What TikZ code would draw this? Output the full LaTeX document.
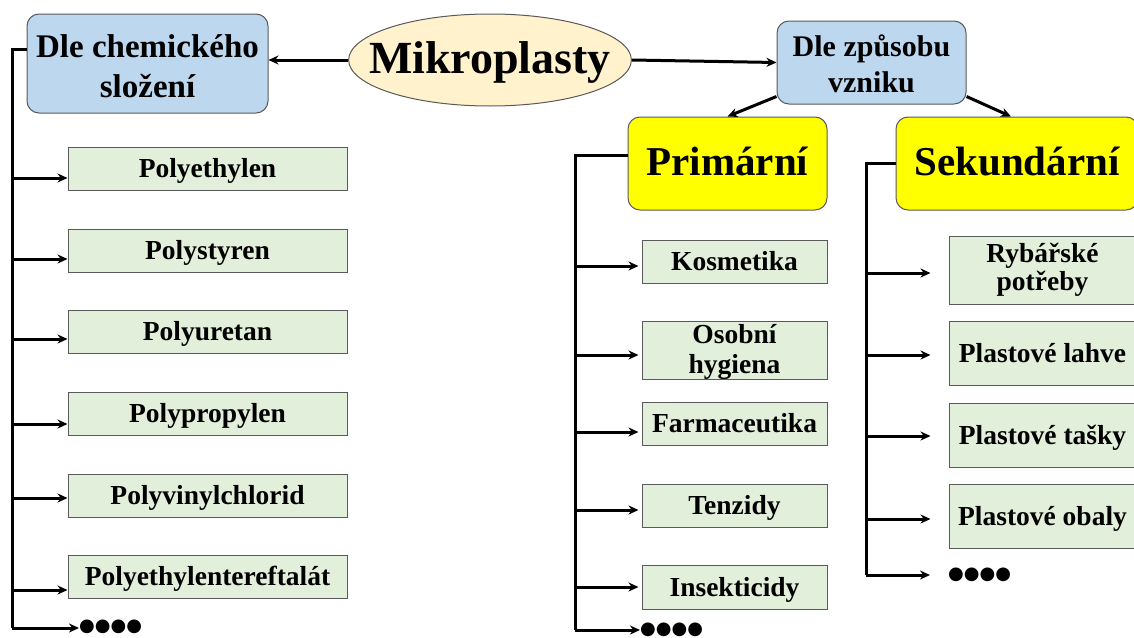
\documentclass[tikz,border=0pt]{standalone}
\usepackage{fontspec}
\setmainfont{Liberation Serif}
\newfontfamily\dotfont{DejaVu Sans}
\usetikzlibrary{arrows.meta,shapes.geometric,calc}
\definecolor{bluefill}{HTML}{BDD7EE}
\definecolor{creamfill}{HTML}{FFF2CC}
\definecolor{yellowfill}{HTML}{FFFF00}
\definecolor{greenfill}{HTML}{E2EFDA}
\definecolor{edgegray}{HTML}{5A5A5A}
\begin{document}
\begin{tikzpicture}[x=1pt,y=-1pt,
  conn/.style={line width=3pt,black},
  arr/.style={conn,-{Stealth[length=10pt,width=9pt]}},
  bluebox/.style={draw=edgegray,line width=1pt,fill=bluefill,rounded corners=12pt,align=center,inner sep=0pt},
  yellowbox/.style={draw=edgegray,line width=1pt,fill=yellowfill,rounded corners=12pt,font=\fontsize{41}{44}\selectfont\bfseries,inner sep=0pt,text height=24pt,text depth=0pt},
  greenbox/.style={draw=edgegray,line width=1pt,fill=greenfill,font=\fontsize{27.5}{30}\selectfont\bfseries,inner sep=0pt,text height=18pt,text depth=0pt},
  dots/.style={font=\dotfont\fontsize{18}{18}\selectfont,anchor=west,inner sep=0pt}
]
\useasboundingbox (0,0) rectangle (1134,637);
\clip (0,0) rectangle (1134,637);
\fill[white] (0,0) rectangle (1134,637);

% top level
\node[ellipse,draw=edgegray,line width=1pt,fill=creamfill,minimum width=280pt,minimum height=92pt,inner xsep=-21pt,inner ysep=0pt,text height=26pt,text depth=0pt,font=\fontsize{46}{48}\selectfont\bfseries] (mp) at (490,60) {Mikroplasty};
\node[bluebox,minimum width=241pt,minimum height=99pt,font=\fontsize{33}{40}\selectfont\bfseries,text height=67pt,text depth=0pt] (dch) at (147.5,63.5) {Dle chemického\\složení};
\node[bluebox,minimum width=189pt,minimum height=83pt,font=\fontsize{30}{36}\selectfont\bfseries,text height=59pt,text depth=0pt] (dz) at (871.5,62.5) {Dle způsobu\\vzniku};
\node[yellowbox,minimum width=199pt,minimum height=93pt] (prim) at (727.5,163.5) {Primární};
\node[yellowbox,minimum width=242pt,minimum height=93pt] (sek) at (1017,163.5) {Sekundární};

\draw[arr] (mp.west) -- (dch.east |- mp.west);
\draw[arr] (mp.east) -- (dz.west);
\draw[arr] ([yshift=8pt]dz.south west) -- (prim.north);
\draw[arr] ([yshift=8pt]dz.south east) -- ([xshift=-6pt]sek.north);

% left column
\node[greenbox,minimum width=279pt,minimum height=43pt] (pe)  at (207.5,168.5) {Polyethylen};
\node[greenbox,minimum width=279pt,minimum height=43pt] (ps)  at (207.5,250.5) {Polystyren};
\node[greenbox,minimum width=279pt,minimum height=43pt] (pu)  at (207.5,331.5) {Polyuretan};
\node[greenbox,minimum width=279pt,minimum height=43pt] (pp)  at (207.5,413.5) {Polypropylen};
\node[greenbox,minimum width=279pt,minimum height=43pt] (pvc) at (207.5,495.5) {Polyvinylchlorid};
\node[greenbox,minimum width=279pt,minimum height=43pt] (pet) at (207.5,576.5) {Polyethylentereftalát};
\node[dots] (ldots) at (79,627) {●●●●};

\coordinate (lt) at (12,49);
\coordinate (lb) at (12,628);
\draw[conn] (dch.west |- lt) -- (lt) -- (lb);
\foreach \n/\yy in {pe/178,ps/259,pu/339,pp/424,pvc/498,pet/590}{
  \coordinate (s\n) at (12,\yy);
  \draw[arr] (s\n) -- (\n.west |- s\n);
}
\draw[arr] (lb) -- (ldots.west |- lb);

% primary column
\node[greenbox,minimum width=185pt,minimum height=43pt] (kos) at (734.5,261.5) {Kosmetika};
\node[greenbox,minimum width=185pt,minimum height=58pt,align=center,text height=46pt,text depth=0pt] (osh) at (734.5,350) {Osobní\\hygiena};
\node[greenbox,minimum width=185pt,minimum height=43pt] (far) at (734.5,423.5) {Farmaceutika};
\node[greenbox,minimum width=185pt,minimum height=43pt] (ten) at (734.5,505.5) {Tenzidy};
\node[greenbox,minimum width=185pt,minimum height=44pt] (ins) at (734.5,587) {Insekticidy};
\node[dots] (pdots) at (640,630) {●●●●};

\coordinate (pt) at (575,155);
\coordinate (pb) at (575,630);
\draw[conn] (prim.west |- pt) -- (pt) -- (pb);
\foreach \n/\yy in {kos/266,osh/355,far/432,ten/510,ins/587}{
  \coordinate (s\n) at (575,\yy);
  \draw[arr] (s\n) -- ([xshift=-3pt]\n.west |- s\n);
}
\draw[arr] (pb) -- (pdots.west |- pb);

% secondary column
\node[greenbox,minimum width=187pt,minimum height=68pt,align=center,font=\fontsize{27.5}{28}\selectfont\bfseries,text height=40pt,text depth=0pt] (ryb) at (1042.5,270) {Rybářské\\potřeby};
\node[greenbox,minimum width=187pt,minimum height=64pt] (lah) at (1042.5,353) {Plastové lahve};
\node[greenbox,minimum width=187pt,minimum height=64pt] (tas) at (1042.5,435) {Plastové tašky};
\node[greenbox,minimum width=187pt,minimum height=64pt] (oba) at (1042.5,516) {Plastové obaly};
\node[dots] (sdots) at (948,575) {●●●●};

\coordinate (st) at (866,163);
\coordinate (sb) at (866,575);
\draw[conn] (sek.west |- st) -- (st) -- (sb);
\foreach \n/\yy in {ryb/273,lah/355,tas/436,oba/519}{
  \coordinate (s\n) at (866,\yy);
  \draw[arr] (s\n) -- ([xshift=-18pt]\n.west |- s\n);
}
\draw[arr] (sb) -- ([xshift=-18pt]sdots.west |- sb);
\end{tikzpicture}
\end{document}
